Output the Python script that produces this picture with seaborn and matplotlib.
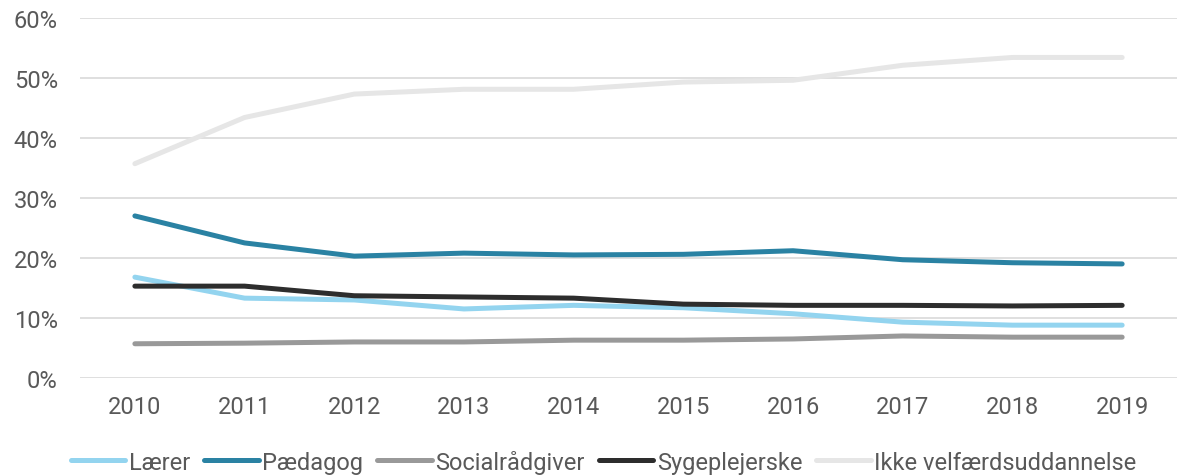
import pandas as pd
import matplotlib
matplotlib.use("Agg")
import matplotlib.pyplot as plt
import seaborn as sns
from matplotlib.ticker import FuncFormatter

# Data (percent)
years = [2010, 2011, 2012, 2013, 2014, 2015, 2016, 2017, 2018, 2019]
laerer = [16.8, 13.3, 13.0, 11.5, 12.1, 11.7, 10.7, 9.3, 8.8, 8.8]
paedagog = [27.0, 22.5, 20.3, 20.8, 20.5, 20.6, 21.2, 19.7, 19.2, 19.0]
socialraadgiver = [5.7, 5.8, 6.0, 6.0, 6.3, 6.3, 6.5, 7.0, 6.8, 6.8]
sygeplejerske = [15.3, 15.3, 13.7, 13.5, 13.3, 12.3, 12.1, 12.1, 12.0, 12.1]
ikke_velfaerd = [35.7, 43.4, 47.3, 48.1, 48.1, 49.3, 49.6, 52.1, 53.4, 53.4]

series_names = ["Lærer", "Pædagog", "Socialrådgiver", "Sygeplejerske",
                "Ikke velfærdsuddannelse"]
series_values = [laerer, paedagog, socialraadgiver, sygeplejerske, ikke_velfaerd]
colors = ["#93d4ef", "#2a82a3", "#999999", "#2d2d2d", "#e6e6e6"]

rows = []
for name, vals in zip(series_names, series_values):
    for i, (yr, v) in enumerate(zip(years, vals)):
        rows.append({"pos": i, "year": yr, "value": v, "series": name})
df = pd.DataFrame(rows)

sns.set_style("white")
plt.rcParams["font.family"] = ["Roboto", "DejaVu Sans"]

fig = plt.figure(figsize=(11.77, 4.77), dpi=100)
ax = fig.add_axes([0.068, 0.2055, 0.932, 0.755])

sns.lineplot(data=df, x="pos", y="value", hue="series", hue_order=series_names,
             palette=dict(zip(series_names, colors)), linewidth=3.6, ax=ax,
             legend=False, solid_capstyle="round")

ax.set_xlim(-0.5, len(years) - 0.5)
ax.set_ylim(0, 60)
ax.set_yticks(range(0, 61, 10))
ax.yaxis.set_major_formatter(FuncFormatter(lambda v, p: f"{v:.0f}%"))
ax.set_xticks(range(len(years)))
ax.set_xticklabels([str(y) for y in years])
ax.grid(axis="y", color="#d9d9d9", linewidth=1.2)
ax.set_axisbelow(True)
for s in ax.spines.values():
    s.set_visible(False)
ax.tick_params(axis="both", length=0, labelsize=17, colors="#595959")
ax.tick_params(axis="x", pad=12)
ax.tick_params(axis="y", pad=16)
ax.set_xlabel("")
ax.set_ylabel("")

handles = [plt.Line2D([0], [0], color=c, linewidth=3.6, solid_capstyle="round")
           for c in colors]
leg = fig.legend(handles, series_names, loc="center", bbox_to_anchor=(0.513, 0.03),
                 ncol=5, frameon=False, fontsize=17, handlelength=2.3,
                 handletextpad=0.15, columnspacing=0.6)
for t in leg.get_texts():
    t.set_color("#595959")

fig.savefig("out.png", dpi=100)
